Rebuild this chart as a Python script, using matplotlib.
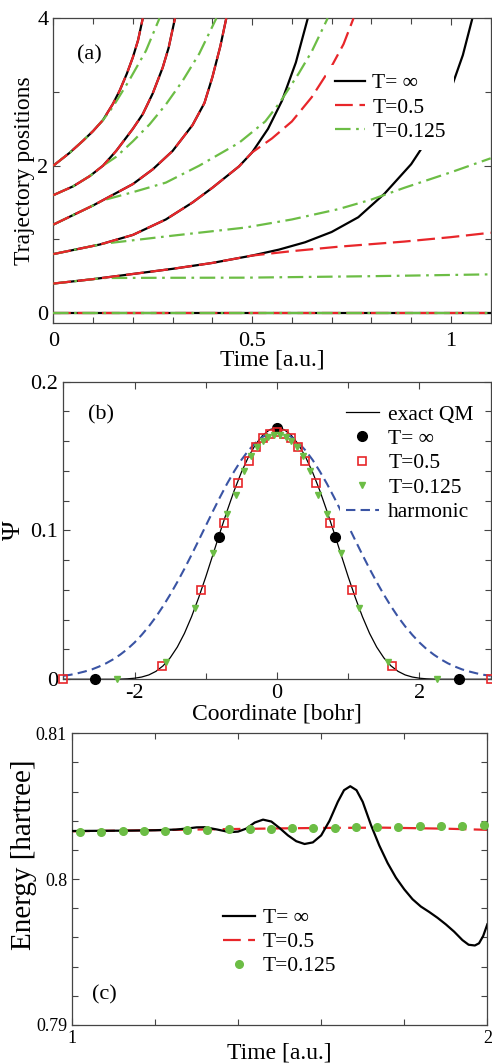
import numpy as np
import matplotlib
matplotlib.use("Agg")
import matplotlib.pyplot as plt
from matplotlib.ticker import FixedLocator, MultipleLocator

plt.rcParams['font.family'] = ['Liberation Serif', 'DejaVu Serif']
plt.rcParams['axes.unicode_minus'] = False
plt.rcParams['mathtext.fontset'] = 'stix'

BLACK = '#000000'
RED = '#e8262a'
GREEN = '#6cbd45'
BLUE = '#3a54a4'

# ---------------- panel (a): trajectory positions ----------------
# T = infinity (black)
t_inf_00 = [0.0, 1.1]
y_inf_00 = [0.0, 0.0]
t_inf_04 = [0, 0.1, 0.2, 0.3, 0.4, 0.5, 0.567, 0.633, 0.7, 0.767, 0.833, 0.9, 0.933, 0.967, 1.0, 1.03, 1.054]
y_inf_04 = [0.4, 0.46, 0.53, 0.6, 0.68, 0.78, 0.86, 0.96, 1.10, 1.30, 1.62, 2.02, 2.29, 2.62, 3.04, 3.5, 4.0]
t_inf_08 = [0, 0.117, 0.2, 0.283, 0.35, 0.4, 0.467, 0.5, 0.54, 0.575, 0.61, 0.64]
y_inf_08 = [0.8, 0.93, 1.06, 1.27, 1.5, 1.70, 1.99, 2.18, 2.5, 2.88, 3.4, 4.0]
t_inf_12 = [0, 0.1, 0.2, 0.25, 0.3, 0.35, 0.38, 0.4, 0.42, 0.435]
y_inf_12 = [1.2, 1.46, 1.75, 1.95, 2.2, 2.55, 2.85, 3.2, 3.62, 4.0]
t_inf_16 = [0, 0.05, 0.092, 0.125, 0.158, 0.2, 0.225, 0.25, 0.275, 0.29, 0.306]
y_inf_16 = [1.6, 1.72, 1.86, 2.0, 2.2, 2.5, 2.7, 2.98, 3.33, 3.6, 4.0]
t_inf_20 = [0, 0.04, 0.075, 0.1, 0.125, 0.15, 0.167, 0.185, 0.2, 0.213, 0.225]
y_inf_20 = [2.0, 2.17, 2.34, 2.47, 2.62, 2.84, 3.02, 3.25, 3.47, 3.7, 4.0]

# T = 0.5 (red): identical to black up to t = 0.5, then these branches
t_05_04_after = [0.5, 0.6, 0.717, 0.883, 1.0, 1.1]
y_05_04_after = [0.78, 0.84, 0.90, 0.97, 1.03, 1.09]
t_05_08_after = [0.5, 0.55, 0.6, 0.65, 0.7, 0.73, 0.755]
y_05_08_after = [2.18, 2.37, 2.6, 2.93, 3.35, 3.65, 4.0]

# T = 0.125 (green)
t_0125_04 = [0, 0.1, 0.125, 0.25, 0.483, 0.8, 1.1]
y_0125_04 = [0.4, 0.46, 0.475, 0.478, 0.48, 0.50, 0.525]
t_0125_08 = [0, 0.117, 0.125, 0.3, 0.483, 0.6, 0.717, 0.8, 0.883, 1.0, 1.1]
y_0125_08 = [0.8, 0.93, 0.94, 1.05, 1.16, 1.27, 1.41, 1.54, 1.70, 1.91, 2.1]
t_0125_12 = [0, 0.1, 0.125, 0.2, 0.283, 0.367, 0.467, 0.533, 0.57, 0.617, 0.65, 0.69]
y_0125_12 = [1.2, 1.46, 1.53, 1.64, 1.77, 2.0, 2.31, 2.6, 2.86, 3.25, 3.55, 4.0]
t_0125_16 = [0, 0.05, 0.092, 0.125, 0.158, 0.2, 0.242, 0.283, 0.325, 0.367, 0.41]
y_0125_16 = [1.6, 1.72, 1.86, 2.0, 2.12, 2.33, 2.56, 2.83, 3.15, 3.52, 4.0]
t_0125_20 = [0, 0.04, 0.075, 0.1, 0.125, 0.15, 0.19, 0.233, 0.267]
y_0125_20 = [2.0, 2.17, 2.34, 2.47, 2.62, 2.8, 3.15, 3.56, 4.0]

# ---------------- panel (b): wavefunctions ----------------
coord_grid = [round(-3.0 + 0.1 * i, 1) for i in range(61)]
psi_exact_half = [0.1690, 0.1678, 0.1640, 0.1579, 0.1495, 0.1391, 0.1269, 0.1132, 0.0987, 0.0837,
                  0.0688, 0.0548, 0.0420, 0.0308, 0.0216, 0.0144, 0.0090, 0.0053, 0.0029, 0.0015,
                  0.0007, 0.0003, 0.0001, 0.0, 0.0, 0.0, 0.0, 0.0, 0.0, 0.0, 0.0]
psi_harm_half = [0.1660, 0.1652, 0.1629, 0.1590, 0.1538, 0.1474, 0.1398, 0.1315, 0.1224, 0.1129,
                 0.1031, 0.0933, 0.0836, 0.0742, 0.0653, 0.0569, 0.0491, 0.0419, 0.0355, 0.0298,
                 0.0247, 0.0203, 0.0166, 0.0134, 0.0107, 0.0085, 0.0066, 0.0052, 0.0040, 0.0030, 0.0023]
psi_exact = psi_exact_half[:0:-1] + psi_exact_half
psi_harm = psi_harm_half[:0:-1] + psi_harm_half

x_inf = [-2.55, -0.82, 0.0, 0.82, 2.55]
p_inf = [0.0, 0.0957, 0.169, 0.0957, 0.0]
x_05 = [-3.0, -1.62, -1.06, -0.75, -0.55, -0.40, -0.30, -0.20, -0.10, 0.0,
        0.10, 0.20, 0.30, 0.40, 0.55, 0.75, 1.06, 1.62, 3.0]
p_05 = [0.0, 0.0088, 0.060, 0.105, 0.132, 0.147, 0.156, 0.162, 0.165, 0.166,
        0.165, 0.162, 0.156, 0.147, 0.132, 0.105, 0.060, 0.0088, 0.0]
x_0125 = [-2.25, -1.56, -1.15, -0.90, -0.70, -0.58, -0.47, -0.37, -0.28, -0.20, -0.12, -0.04,
          0.04, 0.12, 0.20, 0.28, 0.37, 0.47, 0.58, 0.70, 0.90, 1.15, 1.56, 2.25]
p_0125 = [0.0, 0.0115, 0.048, 0.085, 0.111, 0.124, 0.140, 0.150, 0.156, 0.160, 0.163, 0.164,
          0.164, 0.163, 0.160, 0.156, 0.150, 0.140, 0.124, 0.111, 0.085, 0.048, 0.0115, 0.0]

# ---------------- panel (c): energy ----------------
t_E_inf = [1.00, 1.05, 1.10, 1.15, 1.20, 1.25, 1.28, 1.30, 1.32, 1.35, 1.38, 1.40, 1.42, 1.44,
           1.46, 1.48, 1.50, 1.52, 1.54, 1.56, 1.58, 1.60, 1.62, 1.64, 1.655, 1.67, 1.685,
           1.70, 1.72, 1.74, 1.76, 1.78, 1.80, 1.82, 1.84, 1.86, 1.88, 1.90, 1.92, 1.94,
           1.955, 1.97, 1.98, 1.99, 2.00]
E_inf = [0.80330, 0.80331, 0.80332, 0.80333, 0.80335, 0.80340, 0.80348, 0.80355, 0.80356,
         0.80340, 0.80322, 0.80326, 0.80347, 0.80388, 0.80408, 0.80395, 0.80350, 0.80300,
         0.80260, 0.80241, 0.80252, 0.80300, 0.80400, 0.80530, 0.80610, 0.80637, 0.80610,
         0.80530, 0.80370, 0.80230, 0.80110, 0.80010, 0.79930, 0.79862, 0.79812, 0.79775,
         0.79735, 0.79690, 0.79640, 0.79582, 0.79550, 0.79545, 0.79560, 0.79610, 0.79690]
t_E_05 = [1.0, 1.2, 1.4, 1.5, 1.6, 1.75, 1.9, 2.0]
E_05 = [0.80328, 0.80336, 0.80344, 0.80348, 0.80351, 0.80353, 0.80346, 0.80338]
t_E_0125 = [1.020, 1.071, 1.123, 1.173, 1.224, 1.276, 1.326, 1.377, 1.428, 1.480,
            1.530, 1.581, 1.633, 1.684, 1.734, 1.786, 1.838, 1.888, 1.939, 1.991]
E_0125 = [0.80322, 0.80325, 0.80327, 0.80331, 0.80333, 0.80336, 0.80339, 0.80342, 0.80344, 0.80346,
          0.80348, 0.80351, 0.80353, 0.80355, 0.80357, 0.80359, 0.80361, 0.80364, 0.80366, 0.80369]

fig = plt.figure(figsize=(4.92, 10.64), dpi=100)


def style_axes(ax, ticksize, xpad=3.5):
    for s in ax.spines.values():
        s.set_color('#444444')
        s.set_linewidth(0.9)
    ax.tick_params(which='both', direction='in', top=True, right=True,
                   labelsize=ticksize, colors='#444444', labelcolor='black', width=0.8)
    ax.tick_params(which='major', length=5)
    ax.tick_params(which='minor', length=4)
    ax.tick_params(axis='x', which='major', pad=xpad)


LW = 1.6
red_dash = (0, (8, 3))
green_dd = (0, (7, 2.5, 1.2, 2.5))

# ----- (a)
axa = fig.add_axes([0.1084, 0.6961, 0.8889, 0.2867])
black_sets = [(t_inf_00, y_inf_00), (t_inf_04, y_inf_04), (t_inf_08, y_inf_08),
              (t_inf_12, y_inf_12), (t_inf_16, y_inf_16), (t_inf_20, y_inf_20)]
for t, y in black_sets:
    axa.plot(t, y, color=BLACK, lw=LW, zorder=2)

green_sets = [(t_inf_00, y_inf_00), (t_0125_04, y_0125_04), (t_0125_08, y_0125_08),
              (t_0125_12, y_0125_12), (t_0125_16, y_0125_16), (t_0125_20, y_0125_20)]


def red_branch(t_black, y_black, t_after, y_after):
    t = [v for v in t_black if v < t_after[0]] + list(t_after)
    y = [y_black[k] for k, v in enumerate(t_black) if v < t_after[0]] + list(y_after)
    return t, y


red_sets = [(t_inf_00, y_inf_00),
            red_branch(t_inf_04, y_inf_04, t_05_04_after, y_05_04_after),
            red_branch(t_inf_08, y_inf_08, t_05_08_after, y_05_08_after),
            (t_inf_12, y_inf_12), (t_inf_16, y_inf_16), (t_inf_20, y_inf_20)]
for i, (t, y) in enumerate(green_sets):
    axa.plot(t, y, color=GREEN, lw=LW, ls=green_dd, zorder=5 if i == 0 else 3)
for t, y in red_sets:
    axa.plot(t, y, color=RED, lw=LW, ls=red_dash, zorder=4)

ha = [plt.Line2D([], [], color=BLACK, lw=LW),
      plt.Line2D([], [], color=RED, lw=LW, ls=red_dash),
      plt.Line2D([], [], color=GREEN, lw=LW, ls=green_dd)]
la = ['T= ∞', 'T=0.5', 'T=0.125']
lega = axa.legend(ha, la, loc='upper left', bbox_to_anchor=(0.6244, 0.848), borderaxespad=0,
                  frameon=True, fancybox=False, edgecolor='none', facecolor='white', framealpha=1,
                  fontsize=15.5, handlelength=1.4, handletextpad=0.33, labelspacing=0.19,
                  borderpad=0.4)
lega.set_zorder(10)

axa.set_xlim(0, 1.1)
axa.set_ylim(-0.14, 4.0)
axa.xaxis.set_major_locator(FixedLocator([0, 0.5, 1.0]))
axa.set_xticklabels(['0', '0.5', '1'])
axa.xaxis.set_minor_locator(MultipleLocator(0.1))
axa.yaxis.set_major_locator(FixedLocator([0, 2, 4]))
axa.set_yticklabels(['0', '2', '4'])
axa.yaxis.set_minor_locator(MultipleLocator(1))
style_axes(axa, 16, xpad=6)
axa.set_xlabel('Time [a.u.]', fontsize=17, labelpad=-1)
axa.set_ylabel('Trajectory positions', fontsize=17, labelpad=2)
axa.text(0.055, 0.879, '(a)', transform=axa.transAxes, fontsize=16, ha='left', va='center')

# ----- (b)
axb = fig.add_axes([0.1287, 0.3616, 0.8686, 0.2797])
axb.plot(coord_grid, psi_exact, color=BLACK, lw=0.9, label='exact QM', zorder=2)
axb.plot(x_inf, p_inf, 'o', color=BLACK, ms=7, label='T= ∞', clip_on=False, zorder=4)
axb.plot(x_05, p_05, 's', mfc='none', mec=RED, mew=1.2, ms=6, label='T=0.5', clip_on=False, zorder=5)
axb.plot(x_0125, p_0125, 'v', color=GREEN, ms=5, label='T=0.125', clip_on=False, zorder=6)
axb.plot(coord_grid, psi_harm, color=BLUE, lw=1.5, ls=(0, (4.5, 2.5)), label='harmonic', zorder=3)
legb = axb.legend(loc='upper left', bbox_to_anchor=(0.647, 0.945), borderaxespad=0,
                  frameon=True, fancybox=False, edgecolor='none', facecolor='white', framealpha=1,
                  fontsize=15.5, handlelength=1.5, handletextpad=0.45, labelspacing=0.2,
                  borderpad=0.3, numpoints=1)
legb.set_zorder(10)
axb.set_xlim(-3, 3)
axb.set_ylim(0, 0.2)
axb.xaxis.set_major_locator(FixedLocator([-2, 0, 2]))
axb.set_xticklabels(['-2', '0', '2'])
axb.xaxis.set_minor_locator(MultipleLocator(1))
axb.yaxis.set_major_locator(FixedLocator([0, 0.1, 0.2]))
axb.set_yticklabels(['0', '0.1', '0.2'])
axb.yaxis.set_minor_locator(MultipleLocator(0.02))
style_axes(axb, 16)
axb.set_xlabel('Coordinate [bohr]', fontsize=17, labelpad=0)
axb.set_ylabel('Ψ', fontsize=19, rotation=90)
axb.yaxis.set_label_coords(-0.09, 0.5)
axb.text(0.058, 0.889, '(b)', transform=axb.transAxes, fontsize=16, ha='left', va='center')

# ----- (c)
axc = fig.add_axes([0.1463, 0.0367, 0.8442, 0.2741])
axc.plot(t_E_inf, E_inf, color=BLACK, lw=1.6, label='T= ∞', zorder=3)
axc.plot(t_E_05, E_05, color=RED, lw=1.6, ls=(0, (8, 3.3)), label='T=0.5', zorder=2)
axc.plot(t_E_0125, E_0125, 'o', color=GREEN, ms=5.5, label='T=0.125', zorder=4, clip_on=False)
legc = axc.legend(loc='upper left', bbox_to_anchor=(0.348, 0.423), borderaxespad=0,
                  frameon=True, fancybox=False, edgecolor='none', facecolor='white', framealpha=1,
                  fontsize=15.5, handlelength=1.5, handletextpad=0.35, labelspacing=0.19,
                  borderpad=0.3, numpoints=1)
axc.set_xlim(1, 2)
axc.set_ylim(0.79, 0.81)
axc.xaxis.set_major_locator(FixedLocator([1, 2]))
axc.set_xticklabels(['1', '2'])
axc.xaxis.set_minor_locator(MultipleLocator(0.2))
axc.yaxis.set_major_locator(FixedLocator([0.79, 0.8, 0.81]))
axc.set_yticklabels(['0.79', '0.8', '0.81'])
axc.yaxis.set_minor_locator(MultipleLocator(0.002))
style_axes(axc, 13)
axc.set_xlabel('Time [a.u.]', fontsize=17, labelpad=-3)
axc.set_ylabel('Energy [hartree]', fontsize=21)
axc.yaxis.set_label_coords(-0.085, 0.582)
axc.text(0.048, 0.103, '(c)', transform=axc.transAxes, fontsize=16, ha='left', va='center')

fig.savefig('out.png', dpi=100)
